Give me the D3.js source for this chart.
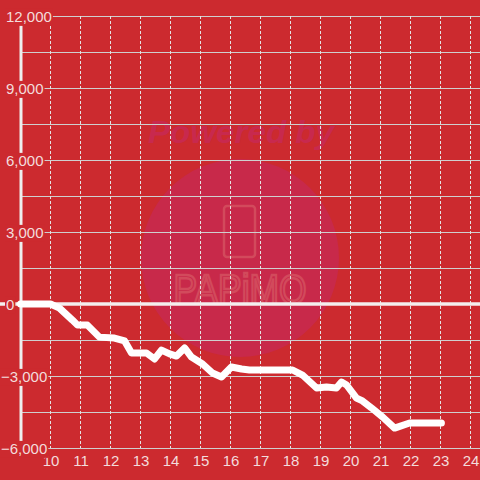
<!DOCTYPE html>
<html>
<head>
<meta charset="utf-8">
<script src="https://cdn.jsdelivr.net/npm/d3@7"></script>
<style>
  html, body { margin: 0; padding: 0; background: #cc2a2f; }
  svg { display: block; }
  text { font-family: "Liberation Sans", Arial, sans-serif; }
</style>
</head>
<body>
<svg id="chart" width="480" height="480"></svg>
<script>
// hours of the day and running value at each point
const hours = [9.0, 10.0, 10.3, 10.73, 10.9, 11.23, 11.63, 12.13, 12.47, 12.7, 13.2, 13.47, 13.7, 13.97,
  14.2, 14.47, 14.7, 15.07, 15.4, 15.7, 16.03, 16.37, 16.63, 18.07, 18.4, 18.87, 19.2, 19.53, 19.7,
  19.87, 20.2, 20.4, 20.7, 21.07, 21.47, 21.97, 23.03];
const values = [0, 0, -170, -670, -880, -880, -1380, -1420, -1540, -2040, -2040, -2290, -1920, -2080,
  -2170, -1830, -2210, -2500, -2875, -3040, -2625, -2710, -2750, -2750, -2960, -3500, -3460, -3500, -3250,
  -3375, -3920, -4040, -4330, -4710, -5170, -4960, -4960];
const xTicks = [10, 11, 12, 13, 14, 15, 16, 17, 18, 19, 20, 21, 22, 23, 24];
const yTicks = [-6000, -3000, 0, 3000, 6000, 9000, 12000];
const yGrid = d3.range(-6000, 12001, 1500);

const bg = "#cc2a2f";
const W = 480, H = 480;
const svg = d3.select("#chart");

const x = d3.scaleLinear().domain([9, 24]).range([20.5, 470.5]);
const y = d3.scaleLinear().domain([-6000, 12000]).range([448, 16]);

svg.append("rect").attr("width", W).attr("height", H).attr("fill", bg);

// watermark
const wm = svg.append("g").attr("class", "watermark");
wm.append("circle").attr("cx", 240).attr("cy", 258).attr("r", 99).attr("fill", "#c8294a");
wm.append("text")
    .attr("x", 241).attr("y", 143)
    .attr("text-anchor", "middle")
    .attr("font-size", 32).attr("font-weight", "bold").attr("font-style", "italic")
    .attr("textLength", 186).attr("lengthAdjust", "spacingAndGlyphs")
    .attr("fill", "#c8294e")
    .text("Powered by");
wm.append("rect")
    .attr("x", 224).attr("y", 206).attr("width", 31).attr("height", 51).attr("rx", 3)
    .attr("fill", "none").attr("stroke", "#d24a5c").attr("stroke-width", 2.5);
wm.append("text")
    .attr("x", 240).attr("y", 304)
    .attr("text-anchor", "middle")
    .attr("font-family", "DejaVu Sans Mono, monospace")
    .attr("font-size", 42)
    .attr("textLength", 133).attr("lengthAdjust", "spacingAndGlyphs")
    .attr("fill", "none").attr("stroke", "#d24a5c").attr("stroke-width", 2.5)
    .text("PAPiMO");

// horizontal grid
svg.append("g").selectAll("line")
    .data(yGrid.filter(d => d !== 0))
    .join("line")
    .attr("x1", 21).attr("x2", W)
    .attr("y1", d => y(d)).attr("y2", d => y(d))
    .attr("stroke", "#cfcfcf").attr("stroke-width", 1)
    .attr("shape-rendering", "crispEdges");

// vertical dashed grid
svg.append("g").selectAll("line")
    .data(xTicks)
    .join("line")
    .attr("x1", d => x(d)).attr("x2", d => x(d))
    .attr("y1", y(12000)).attr("y2", y(-6000))
    .attr("stroke", "#e4e4e4").attr("stroke-width", 1)
    .attr("stroke-dasharray", "3,2")
    .attr("shape-rendering", "crispEdges");

// zero line and left axis line
svg.append("line")
    .attr("x1", 0).attr("x2", W).attr("y1", y(0)).attr("y2", y(0))
    .attr("stroke", "#f4eeee").attr("stroke-width", 3.5);
svg.append("line")
    .attr("x1", 21).attr("x2", 21).attr("y1", y(12000)).attr("y2", y(-6000))
    .attr("stroke", "#eeeeee").attr("stroke-width", 3);

// data line
const line = d3.line()
    .x((d, i) => x(hours[i]))
    .y(d => y(d));
svg.append("path")
    .datum(values)
    .attr("d", line)
    .attr("fill", "none")
    .attr("stroke", "#ffffff")
    .attr("stroke-width", 7)
    .attr("stroke-linejoin", "round")
    .attr("stroke-linecap", "round");

// x axis labels
const xAxis = svg.append("g")
    .attr("transform", "translate(0," + y(-6000) + ")")
    .call(d3.axisBottom(x).tickValues(xTicks).tickFormat(d3.format("d")).tickSize(0).tickPadding(7));
xAxis.select(".domain").remove();
xAxis.selectAll("text")
    .attr("font-size", 15)
    .attr("font-family", "Liberation Sans, Arial, sans-serif")
    .attr("fill", "#f3dcdc");

// y axis labels with background so they sit over the axis line
const yAxis = svg.append("g")
    .call(d3.axisLeft(y).tickValues(yTicks).tickFormat(d3.format(",")).tickSize(0));
yAxis.select(".domain").remove();
yAxis.selectAll("text")
    .attr("x", d => d < 0 ? 1 : 6)
    .attr("dy", "0.36em")
    .attr("text-anchor", "start")
    .attr("font-size", 15)
    .attr("font-family", "Liberation Sans, Arial, sans-serif")
    .attr("fill", "#f3dcdc");
yAxis.selectAll(".tick").each(function () {
    const t = d3.select(this).select("text");
    const b = t.node().getBBox();
    d3.select(this).insert("rect", "text")
        .attr("x", b.x - 1).attr("y", b.y + 1)
        .attr("width", b.width + 2).attr("height", b.height)
        .attr("fill", bg);
});
</script>
</body>
</html>
